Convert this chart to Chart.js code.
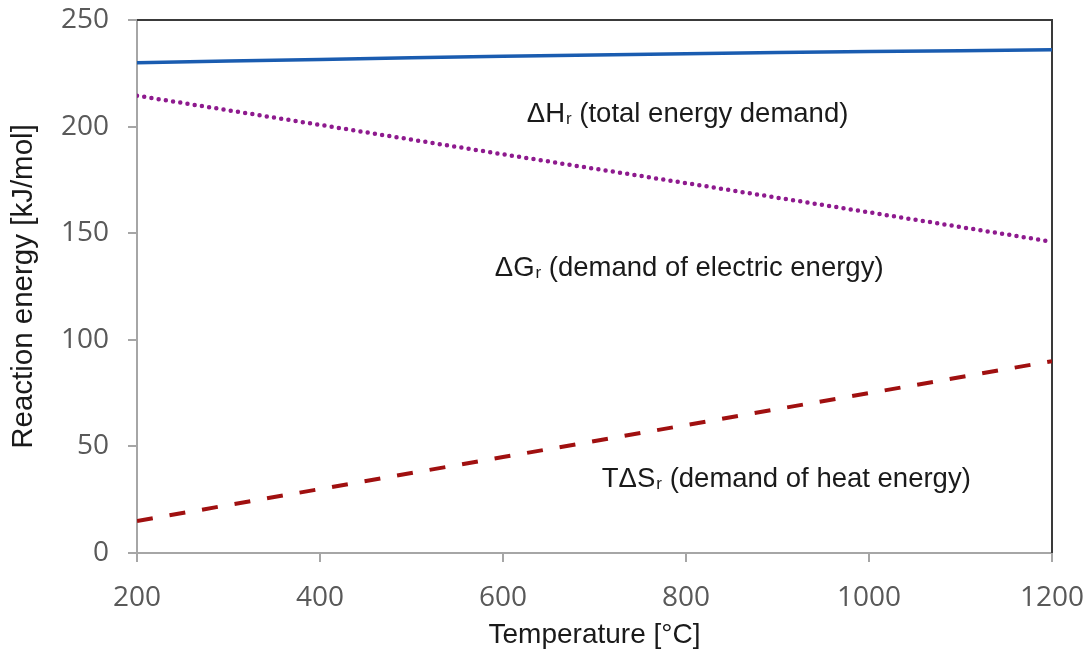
<!DOCTYPE html>
<html>
<head>
<meta charset="utf-8">
<script src="https://cdn.jsdelivr.net/npm/chart.js@4.4.1/dist/chart.umd.min.js"></script>
<style>
  html, body { margin: 0; padding: 0; background: #fff; }
  #wrap { width: 1089px; height: 654px; }
</style>
</head>
<body>
<div id="wrap"><canvas id="chart" width="1089" height="654"></canvas></div>
<script>
// temperature in °C
const temps = [200, 400, 600, 800, 1000, 1200];
// reaction energies in kJ/mol
const deltaH = [230, 231.5, 233, 234.2, 235.2, 236];
const deltaG = [214.5, 200.8, 187, 173.5, 159.8, 146];
const tDeltaS = [15, 30, 45, 60, 75, 90];

const xTicks = [200, 400, 600, 800, 1000, 1200];
const yTicks = [0, 50, 100, 150, 200, 250];

// labels written inside the plot: symbol, subscript, rest
const labelMain = ['ΔH', 'ΔG', 'TΔS'];
const labelSub = ['r', 'r', 'r'];
const labelRest = [' (total energy demand)', ' (demand of electric energy)', ' (demand of heat energy)'];
const labelX = [626, 591, 708];
const labelY = [202, 129.7, 31];

const toPoints = (ys) => temps.map((t, i) => ({ x: t, y: ys[i] }));

// no auto padding for overflowing tick labels, layout padding decides
const noPad = (s) => { s.paddingTop = s.paddingBottom = s.paddingLeft = s.paddingRight = 0; };

const frame = {
  id: 'frame',
  beforeDatasetsDraw(chart) {
    const { ctx, chartArea: a } = chart;
    ctx.save();
    ctx.lineWidth = 2;
    ctx.strokeStyle = '#3a3a3a';
    ctx.beginPath();
    ctx.moveTo(a.left, a.top);
    ctx.lineTo(a.right, a.top);
    ctx.lineTo(a.right, a.bottom);
    ctx.stroke();
    ctx.restore();
  }
};

const labels = {
  id: 'labels',
  afterDatasetsDraw(chart) {
    const { ctx, scales } = chart;
    const big = '27.5px "Liberation Sans", Arial, sans-serif';
    const small = '17px "Liberation Sans", Arial, sans-serif';
    ctx.save();
    ctx.fillStyle = '#1a1a1a';
    ctx.textBaseline = 'alphabetic';
    ctx.textAlign = 'left';
    labelMain.forEach((m, i) => {
      let x = scales.x.getPixelForValue(labelX[i]);
      const y = scales.y.getPixelForValue(labelY[i]);
      ctx.font = big;
      ctx.fillText(m, x, y);
      x += ctx.measureText(m).width;
      ctx.font = small;
      ctx.fillText(labelSub[i], x + 1, y + 2);
      x += ctx.measureText(labelSub[i]).width + 1;
      ctx.font = big;
      ctx.fillText(labelRest[i], x, y);
    });
    ctx.restore();
  }
};

new Chart(document.getElementById('chart'), {
  type: 'line',
  data: {
    datasets: [
      {
        label: 'ΔHr',
        data: toPoints(deltaH),
        borderColor: '#1a5cb0',
        borderWidth: 3.5,
        pointRadius: 0,
        tension: 0.3
      },
      {
        label: 'ΔGr',
        data: toPoints(deltaG),
        borderColor: '#8e1a8e',
        borderWidth: 4.5,
        borderDash: [0, 7.3],
        borderCapStyle: 'round',
        pointRadius: 0
      },
      {
        label: 'TΔSr',
        data: toPoints(tDeltaS),
        borderColor: '#a01010',
        borderWidth: 4,
        borderDash: [16, 17],
        pointRadius: 0
      }
    ]
  },
  options: {
    responsive: false,
    animation: false,
    layout: { padding: { top: 20, right: 37, left: 0, bottom: 0 } },
    plugins: { legend: { display: false }, tooltip: { enabled: false } },
    scales: {
      x: {
        type: 'linear',
        min: 200,
        max: 1200,
        afterBuildTicks: (s) => { s.ticks = xTicks.map(v => ({ value: v })); },
        afterFit: (s) => { s.height = 101; noPad(s); },
        ticks: {
          color: '#595959',
          font: { family: '"Open Sans", sans-serif', size: 28 },
          padding: 19,
          callback: (v) => String(v)
        },
        grid: { drawOnChartArea: false, color: '#a6a6a6', tickLength: 9, lineWidth: 2 },
        border: { color: '#a6a6a6', width: 2 },
        title: {
          display: true,
          text: 'Temperature [°C]',
          color: '#1a1a1a',
          font: { family: '"Liberation Sans", Arial, sans-serif', size: 28 },
          padding: { top: 0, bottom: 2 }
        }
      },
      y: {
        min: 0,
        max: 250,
        afterBuildTicks: (s) => { s.ticks = yTicks.map(v => ({ value: v })); },
        afterFit: (s) => { s.width = 137; noPad(s); },
        ticks: {
          color: '#595959',
          font: { family: '"Open Sans", sans-serif', size: 28 },
          padding: 19,
          callback: (v) => String(v)
        },
        grid: { drawOnChartArea: false, color: '#a6a6a6', tickLength: 9, lineWidth: 2 },
        border: { color: '#a6a6a6', width: 2 },
        title: {
          display: true,
          text: 'Reaction energy [kJ/mol]',
          color: '#1a1a1a',
          font: { family: '"Liberation Sans", Arial, sans-serif', size: 29.5 },
          padding: { top: 6, bottom: 0 }
        }
      }
    }
  },
  plugins: [frame, labels]
});
</script>
</body>
</html>
